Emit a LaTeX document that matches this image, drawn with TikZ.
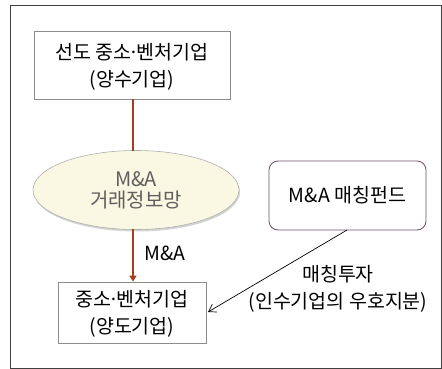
\documentclass[tikz,border=0pt]{standalone}
\usepackage{fontspec}
\setmainfont{Noto Sans CJK KR}
\usetikzlibrary{shadows,arrows.meta,shapes.geometric}
\definecolor{redline}{RGB}{170,60,30}
\definecolor{ellfill}{RGB}{250,248,226}
\definecolor{boxline}{RGB}{140,140,140}
\definecolor{rbline}{RGB}{110,80,100}
\definecolor{elltext}{RGB}{95,95,95}
\newcommand{\mdot}{\kern-3pt·\kern-3pt}
\tikzset{
  sqbox/.style={draw=boxline, line width=0.8pt, fill=white, inner sep=0pt},
  rbox/.style={draw=rbline, line width=0.8pt, rounded corners=9pt, fill=white, align=center, font=\fontsize{19.5}{27}\selectfont, inner sep=0pt},
  txt/.style={align=center, font=\fontsize{19.5}{27}\selectfont, inner sep=0pt},
  ell/.style={ellipse, draw=boxline!70, line width=0.6pt, fill=ellfill, align=center, text=elltext, font=\fontsize{20}{21}\selectfont, inner sep=0pt, drop shadow={shadow xshift=1pt, shadow yshift=-2pt, opacity=0.35}},
  redarrow/.style={draw=redline, line width=2pt},
  lbl/.style={font=\fontsize{19.5}{27}\selectfont, align=center}
}
\begin{document}
\begin{tikzpicture}[x=1pt,y=-1pt]
\useasboundingbox (0,0) rectangle (442,369);
\draw[draw=black!75, line width=0.8pt] (10,5) rectangle (441,368);
\node[sqbox, minimum width=196pt, minimum height=68pt] (top) at (132,65) {};
\node[txt] (toptxt) at (132,67) {선도 중소\mdot 벤처기업\\(양수기업)};
\node[ell, minimum width=206pt, minimum height=79pt] (info) at (136,190) {M\&A\\거래정보망};
\node[sqbox, minimum width=148pt, minimum height=61pt] (bot) at (132,312.5) {};
\node[txt] (bottxt) at (132,314) {중소\mdot 벤처기업\\(양도기업)};
\node[rbox, minimum width=157pt, minimum height=69pt] (fund) at (347.5,195.5) {M\&A 매칭펀드};
\coordinate (topb) at (133,99);
\coordinate (infot) at (133,151);
\coordinate (infob) at (133,229);
\draw[redarrow] (topb) -- (infot);
\draw[redarrow, -{Triangle[length=6pt,width=7pt]}] (infob) -- (bot.north -| infob);
\node[lbl] (malbl) at (165,253) {M\&A};
\coordinate (fundb) at (347,230);
\coordinate (botr) at (208,312);
\draw[line width=0.7pt, -{Straight Barb[length=7pt,width=9pt]}] (fundb) -- (botr);
\node[lbl] (inv) at (338,289) {매칭투자\\(인수기업의 우호지분)};
\end{tikzpicture}
\end{document}
